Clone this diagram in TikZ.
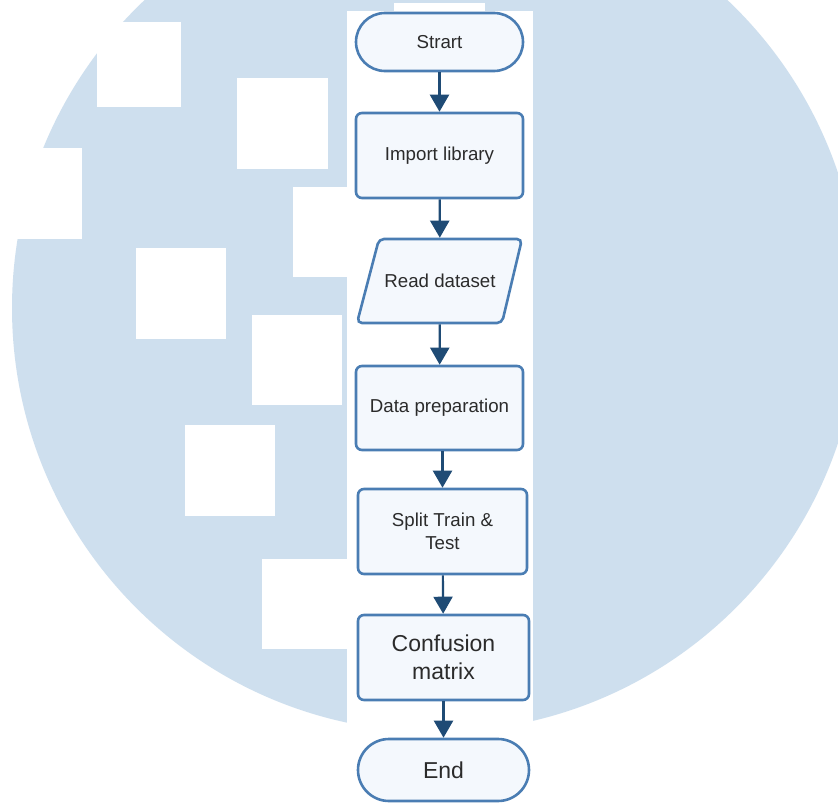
\documentclass[tikz,border=0pt]{standalone}
\usepackage{fontspec}
\setmainfont{Liberation Sans}
\usetikzlibrary{arrows.meta}
\definecolor{bgblue}{HTML}{CEDFEE}
\definecolor{edgeblue}{HTML}{4A7DB3}
\definecolor{arrowblue}{HTML}{1F4B75}
\definecolor{boxfill}{HTML}{F4F8FD}
\definecolor{txt}{HTML}{2B2B2B}
\begin{document}
\begin{tikzpicture}[x=1pt,y=-1pt,
  box/.style={draw=edgeblue, line width=2.6pt, fill=boxfill, rounded corners=6pt,
    minimum width=167pt, minimum height=85pt, inner sep=0pt, align=center,
    text=txt, font=\fontsize{18.7}{23}\selectfont},
  term/.style={box, rounded corners=29pt, minimum height=58pt},
  big/.style={font=\fontsize{23}{28}\selectfont},
  flow/.style={draw=arrowblue, line width=2.2pt, -{Triangle[width=19pt,length=17pt]}},
  hole/.style={fill=white}]
\useasboundingbox (0,0) rectangle (838,803);
\clip (0,0) rectangle (838,803);
\fill[white] (0,0) rectangle (838,803);
% background disc
\fill[bgblue] (436,308) circle[radius=424];
% white squares
\fill[hole] (97,22) rectangle (181,107);
\fill[hole] (237,78) rectangle (328,169);
\fill[hole] (-10,148) rectangle (82,239);
\fill[hole] (293,187) rectangle (384,277);
\fill[hole] (136,248) rectangle (226,339);
\fill[hole] (252,315) rectangle (342,405);
\fill[hole] (185,425) rectangle (275,516);
\fill[hole] (262,559) rectangle (353,649);
\fill[hole] (394,3) rectangle (485,94);
% white strip behind the flowchart
\fill[hole] (347,11) rectangle (533,810);
% flowchart
\node[term] (start) at (439.5,42) {Strart};
\node[box] (import) at (439.5,155.5) {Import library};
\draw[draw=edgeblue, line width=2.6pt, fill=boxfill, rounded corners=5pt]
  (379,239) -- (522,239) -- (502,323) -- (357,323) -- cycle;
\node[box, draw=none, fill=none, minimum width=145pt, minimum height=84pt] (read) at (440,281) {Read dataset};
\node[box, minimum height=84pt] (prep) at (439.5,408) {Data preparation};
\node[box, minimum width=169pt] (split) at (442.5,531.5) {Split Train \&\\Test};
\node[box, big, minimum width=171pt] (conf) at (443.5,657.5) {Confusion\\matrix};
\node[term, big, minimum width=171pt, minimum height=62pt, rounded corners=31pt] (end) at (443.5,770) {End};
% connectors
\draw[flow] (start) -- (import);
\draw[flow] (import) -- (read);
\draw[flow] (read) -- (prep);
\draw[flow] (split.north |- prep.south) -- (split.north);
\draw[flow] (split) -- (conf);
\draw[flow] (end.north |- conf.south) -- (end.north);
\end{tikzpicture}
\end{document}
